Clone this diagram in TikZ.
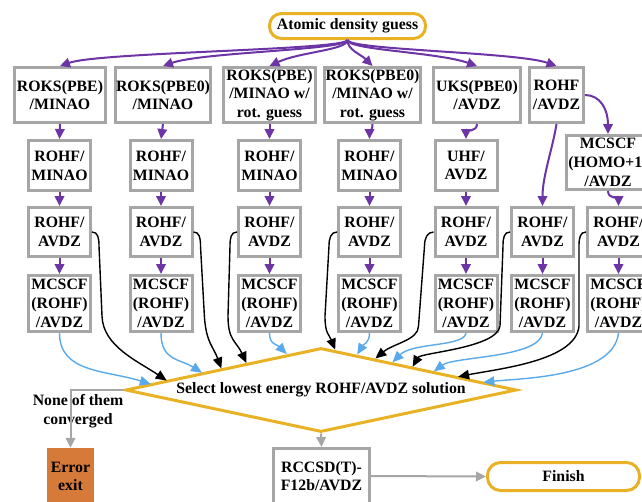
\documentclass[tikz,border=0pt]{standalone}
\usepackage{fontspec}
\setmainfont{Liberation Serif}
\usetikzlibrary{arrows.meta,shapes.geometric,calc}
\definecolor{gold}{RGB}{232,178,36}
\definecolor{purp}{RGB}{108,52,165}
\definecolor{lblue}{RGB}{90,170,235}
\definecolor{bgray}{RGB}{166,166,166}
\definecolor{orng}{RGB}{214,122,58}
\newcommand{\dfont}{\fontsize{15.8}{18.7}\selectfont\bfseries}
\begin{document}
\begin{tikzpicture}[x=1pt,y=-1pt,
 gbox/.style={draw=bgray,line width=3pt,fill=white,inner sep=0pt,align=center,font=\dfont},
 rowA/.style={gbox,minimum height=55},
 rowB/.style={gbox,minimum width=62,minimum height=50},
 rowC/.style={gbox,minimum width=62,minimum height=49},
 rowD/.style={gbox,minimum width=62,minimum height=56},
 ybox/.style={draw=gold,line width=3pt,fill=white,inner sep=0pt,align=center,font=\dfont},
 parr/.style={draw=purp,line width=2pt,-{Triangle[length=10pt,width=9.5pt]}},
 karr/.style={draw=black,line width=1.4pt,-{Triangle[length=11pt,width=9.5pt]}},
 barr/.style={draw=lblue,line width=1.4pt,-{Triangle[length=11pt,width=9.5pt]}},
 garr/.style={draw=bgray,line width=2pt,-{Triangle[length=10pt,width=9.5pt]}},
 txt/.style={font=\dfont,align=center,inner sep=0pt}]
\useasboundingbox (0,0) rectangle (642,501);
\clip (0,0) rectangle (642,501);
\fill[white] (0,0) rectangle (642,501);

% top
\node[ybox,minimum width=156,minimum height=25,rounded corners=12pt] (adg) at (347.5,26) {Atomic density guess};

% row 1
\node[rowA,minimum width=91] (b1) at (60,95) {ROKS(PBE)\\/MINAO};
\node[rowA,minimum width=95] (b2) at (163,95) {ROKS(PBE0)\\/MINAO};
\node[rowA,minimum width=92] (b3) at (269.5,95) {ROKS(PBE)\\/MINAO w/\\rot. guess};
\node[rowA,minimum width=96] (b4) at (372.5,95) {ROKS(PBE0)\\/MINAO w/\\rot. guess};
\node[rowA,minimum width=87] (b5) at (477,95) {UKS(PBE0)\\/AVDZ};
\node[rowA,minimum width=54] (b6) at (556.5,95) {ROHF\\/AVDZ};

% row 2
\node[rowB] (m1) at (59.5,165.5) {ROHF/\\MINAO};
\node[rowB] (m2) at (161,165.5) {ROHF/\\MINAO};
\node[rowB] (m3) at (269.5,165.5) {ROHF/\\MINAO};
\node[rowB] (m4) at (369.5,165.5) {ROHF/\\MINAO};
\node[rowB] (m5) at (466,165.5) {UHF/\\AVDZ};
\node[gbox,minimum width=83,minimum height=54] (h) at (608,162.5) {MCSCF\\(HOMO+1)\\/AVDZ};

% row 3
\node[rowC] (a1) at (59.5,232) {ROHF/\\AVDZ};
\node[rowC] (a2) at (161,232) {ROHF/\\AVDZ};
\node[rowC] (a3) at (269.5,232) {ROHF/\\AVDZ};
\node[rowC] (a4) at (369.5,232) {ROHF/\\AVDZ};
\node[rowC] (a5) at (466,232) {ROHF/\\AVDZ};
\node[rowC] (a6) at (542.5,232) {ROHF/\\AVDZ};
\node[rowC] (a7) at (618.5,232) {ROHF/\\AVDZ};

% row 4
\node[rowD] (s1) at (59.5,303.5) {MCSCF\\(ROHF)\\/AVDZ};
\node[rowD] (s2) at (161,303.5) {MCSCF\\(ROHF)\\/AVDZ};
\node[rowD] (s3) at (269.5,303.5) {MCSCF\\(ROHF)\\/AVDZ};
\node[rowD] (s4) at (369.5,303.5) {MCSCF\\(ROHF)\\/AVDZ};
\node[rowD] (s5) at (466,303.5) {MCSCF\\(ROHF)\\/AVDZ};
\node[rowD] (s6) at (542.5,303.5) {MCSCF\\(ROHF)\\/AVDZ};
\node[rowD] (s7) at (618.5,303.5) {MCSCF\\(ROHF)\\/AVDZ};

% decision
\node[diamond,draw=gold,line width=3pt,minimum width=391,minimum height=84,inner sep=0pt] (sel) at (321,390) {};
\node[txt] (seltxt) at (sel.center) {Select lowest energy ROHF/AVDZ solution};

% bottom
\node[fill=orng,minimum width=47,minimum height=57,inner sep=0pt,align=center,font=\dfont] (err) at (70.5,476.5) {Error\\exit};
\node[gbox,minimum width=96,minimum height=55] (rcc) at (321.5,476) {RCCSD(T)-\\F12b/AVDZ};
\node[ybox,minimum width=152,minimum height=28,rounded corners=13pt] (fin) at (563.5,476.5) {Finish};
\node[txt] (lab) at (78,411) {None of them\\converged};

% purple from top
\draw[parr] (adg.south) .. controls +(0,10) and +(40,-14) .. (b1.north);
\draw[parr] (adg.south) .. controls +(0,10) and +(40,-14) .. (b2.north);
\draw[parr] (adg.south) .. controls +(0,10) and +(30,-14) .. (b3.north);
\draw[parr] (adg.south) .. controls +(0,10) and +(-12,-12) .. (b4.north);
\draw[parr] (adg.south) .. controls +(0,10) and +(-40,-14) .. (b5.north);
\draw[parr] (adg.south) .. controls +(0,10) and +(-40,-14) .. (b6.north);

% purple row1 -> row2
\draw[parr] (b1.south) -- (m1.north);
\draw[parr] (b2.south) -- (m2.north);
\draw[parr] (b3.south) -- (m3.north);
\draw[parr] (b4.south) .. controls +(0,7) and +(0,-7) .. (m4.north);
\draw[parr] (b5.south) .. controls +(0,8) and +(0,-8) .. (m5.north);
\draw[parr] (b6.south) .. controls +(-4,25) and +(0,-30) .. (a6.north);
\draw[parr] (b6.east) .. controls +(15,0) and +(0,-25) .. (h.north);

% row2 -> row3
\draw[parr] (m1.south) -- (a1.north);
\draw[parr] (m2.south) -- (a2.north);
\draw[parr] (m3.south) -- (a3.north);
\draw[parr] (m4.south) -- (a4.north);
\draw[parr] (m5.south) -- (a5.north);
\draw[parr] (h.south) .. controls +(0,8) and +(0,-8) .. (a7.north);

% row3 -> row4
\draw[parr] (a1.south) -- (s1.north);
\draw[parr] (a2.south) -- (s2.north);
\draw[parr] (a3.south) -- (s3.north);
\draw[parr] (a4.south) -- (s4.north);
\draw[parr] (a5.south) -- (s5.north);
\draw[parr] (a6.south) -- (s6.north);
\draw[parr] (a7.south) -- (s7.north);

% black: ROHF/AVDZ -> select
\draw[karr] (a1.east) .. controls +(6,0) and +(0,-8) .. ++(7,14) -- ++(3,70) .. controls +(1,30) and +(-30,-20) .. ($(sel.west)!0.217!(sel.north)$);
\draw[karr] (a2.east) .. controls +(6,0) and +(0,-8) .. ++(7,14) -- ++(4,72) .. controls +(2,25) and +(-8,-22) .. ($(sel.west)!0.494!(sel.north)$);
\draw[karr] (a3.west) .. controls +(-6,0) and +(0,-8) .. ++(-7,14) -- ++(-2,70) .. controls +(0,25) and +(-10,-22) .. ($(sel.west)!0.621!(sel.north)$);
\draw[karr] (a4.west) .. controls +(-6,0) and +(0,-8) .. ++(-8,14) -- ++(-4,70) .. controls +(0,18) and +(-6,-15) .. ($(sel.north)!0.072!(sel.east)$);
\draw[karr] (a5.west) .. controls +(-6,0) and +(0,-8) .. ++(-9,14) -- ++(-6,80) .. controls +(0,14) and +(18,-15) .. ($(sel.north)!0.276!(sel.east)$);
\draw[karr] (a6.west) .. controls +(-6,0) and +(0,-8) .. ++(-7,14) -- ++(-3,80) .. controls +(-3,22) and +(8,-14) .. ($(sel.north)!0.465!(sel.east)$);
\draw[karr] (a7.west) .. controls +(-6,0) and +(0,-8) .. ++(-7,14) -- ++(0,80) .. controls +(-3,35) and +(40,-8) .. ($(sel.north)!0.696!(sel.east)$);

% blue: MCSCF -> select
\draw[barr] (s1.south) .. controls +(0,40) and +(-45,-14) .. ($(sel.west)!0.136!(sel.north)$);
\draw[barr] (s2.south) .. controls +(0,28) and +(-22,-14) .. ($(sel.west)!0.396!(sel.north)$);
\draw[barr] (s3.south) .. controls +(0,12) and +(-10,-10) .. ($(sel.west)!0.826!(sel.north)$);
\draw[barr] (s4.south) .. controls +(0,10) and +(6,-10) .. ($(sel.north)!0.184!(sel.east)$);
\draw[barr] (s5.south) .. controls +(-2,14) and +(20,-20) .. ($(sel.north)!0.363!(sel.east)$);
\draw[barr] (s6.south) .. controls +(-3,25) and +(20,-15) .. ($(sel.north)!0.573!(sel.east)$);
\draw[barr] (s7.south) .. controls +(-5,45) and +(35,-4) .. ($(sel.north)!0.824!(sel.east)$);

% gray
\draw[garr] (sel.west) -| (err.north);
\draw[garr] (sel.south) -- (rcc.north);
\draw[garr] (rcc.east) -- (fin.west);
\end{tikzpicture}
\end{document}
